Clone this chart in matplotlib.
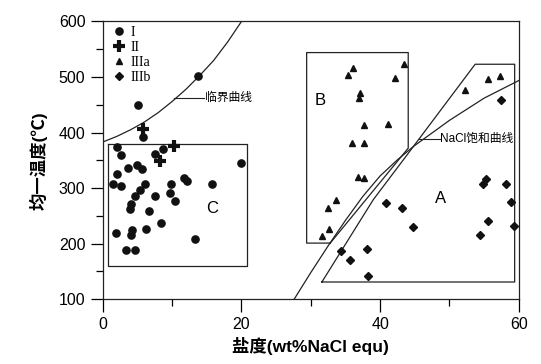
import numpy as np
import matplotlib.pyplot as plt

plt.rcParams['font.family'] = ['Liberation Sans', 'Noto Sans CJK SC']

# group I (circles): salinity wt% NaCl equ, homogenization temperature
I_sal = [13.8, 5.1, 5.8, 2.1, 2.6, 8.7, 7.5, 20.0, 3.7, 4.9, 5.6, 2.1, 1.5, 2.6,
         6.1, 5.4, 11.7, 12.2, 9.8, 15.8, 9.7, 7.5, 10.4, 4.6, 4.0, 3.9, 6.6,
         8.4, 1.9, 4.2, 4.0, 6.3, 13.3, 3.3, 4.7]
I_temp = [501, 450, 392, 374, 359, 371, 362, 345, 336, 342, 335, 326, 308, 303,
          307, 296, 318, 312, 307, 308, 291, 285, 276, 285, 272, 263, 259,
          237, 219, 224, 216, 226, 209, 188, 188]

# group II (crosses)
II_sal = [5.8, 10.3, 8.3]
II_temp = [407, 376, 349]

# group IIIa (triangles)
IIIa_sal = [36.1, 35.4, 43.5, 42.1, 37.1, 37.0, 37.6, 41.2, 36.0, 37.7, 36.8,
            37.6, 33.6, 32.5, 32.6, 31.6, 52.2, 55.6, 57.3]
IIIa_temp = [517, 503, 524, 498, 472, 462, 414, 416, 382, 382, 320,
             318, 278, 264, 226, 214, 477, 496, 502]

# group IIIb (diamonds)
IIIb_sal = [57.5, 55.2, 54.9, 58.1, 58.9, 55.5, 54.4, 59.3, 40.9, 43.2, 44.7,
            34.3, 38.1, 35.6, 38.2]
IIIb_temp = [459, 316, 307, 308, 275, 240, 216, 232, 274, 264, 230,
             186, 191, 170, 141]

# critical curve
crit_x = [0, 2, 4, 6, 8, 10, 12, 14, 16, 18, 20]
crit_y = [383, 393, 405, 419, 436, 456, 478, 503, 530, 563, 600]

# NaCl saturation curve
sat_x = [27.6, 30, 32.5, 35, 37.5, 40, 42.5, 44.8, 50, 55, 60.2]
sat_y = [100, 148, 196, 242, 285, 322, 351, 375, 422, 462, 495]

# field outlines
A_x = [31.6, 39.0, 44.8, 53.7, 59.4, 59.4, 31.6]
A_y = [131, 279, 375, 523, 523, 131, 131]
B_x = [32.8, 29.4, 29.4, 44.05, 44.05, 32.8]
B_y = [201, 201, 544, 544, 372, 201]
C_x = [0.7, 20.8, 20.8, 0.7, 0.7]
C_y = [380, 380, 159, 159, 380]

fig = plt.figure(figsize=(5.41, 3.64), dpi=100)
ax = fig.add_axes([0.19, 0.178, 0.769, 0.763])

lc = '#222222'
ax.plot(crit_x, crit_y, color=lc, lw=0.9)
ax.plot(sat_x, sat_y, color=lc, lw=0.9)
ax.plot(A_x, A_y, color=lc, lw=0.9)
ax.plot(B_x, B_y, color=lc, lw=0.9)
ax.plot(C_x, C_y, color=lc, lw=0.9)

ax.plot(I_sal, I_temp, 'o', color='#111111', ms=5.2, ls='none', label='I')
ax.plot(II_sal, II_temp, '+', color='#111111', ms=9, mew=3, ls='none', label='II')
ax.plot(IIIa_sal, IIIa_temp, '^', color='#111111', ms=4.2, ls='none', label='IIIa')
ax.plot(IIIb_sal, IIIb_temp, 'D', color='#111111', ms=3.6, ls='none', label='IIIb')

# labels of curves and fields
ax.plot([10.2, 14.6], [462, 462], color=lc, lw=0.8)
ax.text(14.7, 462, '临界曲线', fontsize=8.5, va='center', ha='left')
ax.plot([45.6, 48.6], [388, 388], color=lc, lw=0.8)
ax.text(48.7, 388, 'NaCl饱和曲线', fontsize=8.5, va='center', ha='left')
ax.text(31.4, 457, 'B', fontsize=12, ha='center', va='center')
ax.text(48.7, 281, 'A', fontsize=12, ha='center', va='center')
ax.text(15.8, 264, 'C', fontsize=12, ha='center', va='center')

leg = ax.legend(loc='upper left', bbox_to_anchor=(0.0, 1.02), frameon=False,
                handlelength=1.0, handletextpad=0.3, labelspacing=0.15,
                borderaxespad=0.3, prop={'family': 'Liberation Serif', 'size': 10})

ax.set_xlim(0, 60)
ax.set_ylim(100, 600)
ax.set_xticks([0, 20, 40, 60])
ax.set_xticks([10, 30, 50], minor=True)
ax.set_yticks([100, 200, 300, 400, 500, 600])
ax.set_yticks([150, 250, 350, 450, 550], minor=True)
ax.tick_params(which='major', length=9, width=0.9, labelsize=11.5, top=False, right=False)
ax.tick_params(which='minor', length=5, width=0.9, top=False, right=False)
for s in ax.spines.values():
    s.set_linewidth(0.9)
    s.set_color(lc)

ax.set_xlabel('盐度(wt%NaCl equ)', fontsize=12.5, fontweight='bold', labelpad=4)
ax.set_ylabel('均一温度(℃)', fontsize=12.5, fontweight='bold', labelpad=8)

fig.savefig('out.png', dpi=100)
